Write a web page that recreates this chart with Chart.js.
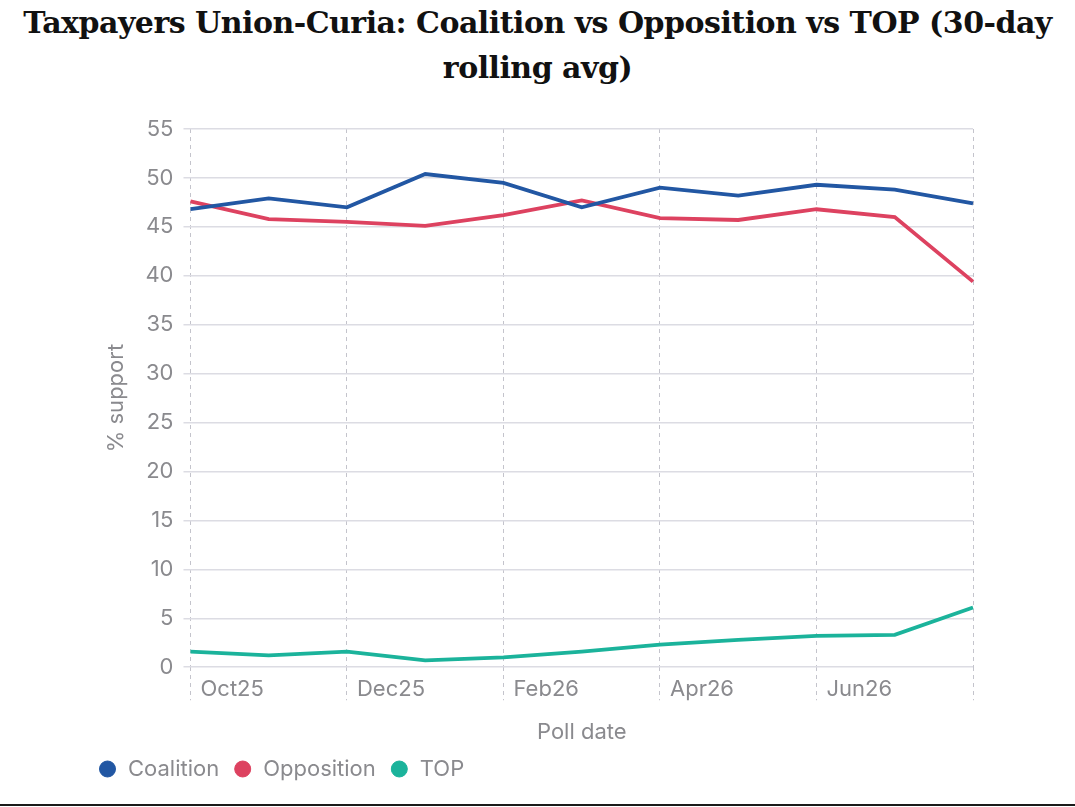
<!DOCTYPE html>
<html>
<head>
<meta charset="utf-8">
<script src="https://cdn.jsdelivr.net/npm/chart.js@4"></script>
<style>
    body { margin: 0; background: #fff; }
    .wrap { width: 1075px; height: 804px; border-bottom: 2px solid #1a1a1a; }
    h1 {
        margin: 0;
        height: 92px;
        padding-top: 0;
        font: bold 30px/45px "DejaVu Serif", serif;
        color: #111;
        text-align: center;
        white-space: nowrap;
        letter-spacing: -0.5px;
    }
    canvas { display: block; }
</style>
</head>
<body>
<div class="wrap">
    <h1>Taxpayers Union-Curia: Coalition vs Opposition vs TOP (30-day<br>rolling avg)</h1>
    <canvas id="pollChart" width="1075" height="712"></canvas>
</div>
<script>
// poll months (one point per month)
const months = ['Oct25', 'Nov25', 'Dec25', 'Jan26', 'Feb26', 'Mar26', 'Apr26', 'May26', 'Jun26', 'Jul26', 'Aug26'];

// 30-day rolling averages, % support
const coalition = [46.8, 47.9, 47.0, 50.4, 49.5, 47.0, 49.0, 48.2, 49.3, 48.8, 47.4];
const opposition = [47.6, 45.8, 45.5, 45.1, 46.2, 47.7, 45.9, 45.7, 46.8, 46.0, 39.4];
const topParty = [1.6, 1.2, 1.6, 0.7, 1.0, 1.6, 2.3, 2.8, 3.2, 3.3, 6.1];

const yTicks = [0, 5, 10, 15, 20, 25, 30, 35, 40, 45, 50, 55];

const tickColor = '#8a8a8e';
const sans = 'Inter, "Noto Sans", sans-serif';

const ctx = document.getElementById('pollChart');

new Chart(ctx, {
    type: 'line',
    data: {
        labels: months,
        datasets: [
            { label: 'Coalition', data: coalition, borderColor: '#2257a3', backgroundColor: '#2257a3' },
            { label: 'Opposition', data: opposition, borderColor: '#dd4260', backgroundColor: '#dd4260' },
            { label: 'TOP', data: topParty, borderColor: '#1bb39b', backgroundColor: '#1bb39b' }
        ]
    },
    options: {
        responsive: false,
        animation: false,
        layout: { padding: { left: 84, right: 102, top: 37, bottom: 14 } },
        elements: {
            line: { borderWidth: 3.8, tension: 0 },
            point: { radius: 0 }
        },
        scales: {
            x: {
                border: { display: false, dash: [4, 4] },
                grid: {
                    color: (c) => (c.index % 2 === 0 ? '#c4c4cc' : 'transparent'),
                    tickBorderDash: [4, 4],
                    tickLength: 33
                },
                ticks: {
                    autoSkip: false,
                    maxRotation: 0,
                    align: 'start',
                    labelOffset: 10,
                    padding: -24,
                    color: tickColor,
                    font: { family: sans, size: 22 },
                    callback: (v, i) => (i % 2 === 0 && i < months.length - 1 ? months[i] : '')
                },
                title: {
                    display: true,
                    text: 'Poll date',
                    color: tickColor,
                    font: { family: sans, size: 22 },
                    padding: { top: 41, bottom: -2 }
                }
            },
            y: {
                min: 0,
                max: 55,
                border: { display: false },
                afterBuildTicks: (axis) => { axis.ticks = yTicks.map((v) => ({ value: v })); },
                grid: { color: '#dcdce3', lineWidth: 1.5, tickLength: 7 },
                ticks: {
                    padding: 10,
                    color: tickColor,
                    font: { family: sans, size: 22 }
                },
                title: {
                    display: true,
                    text: '% support',
                    color: tickColor,
                    font: { family: sans, size: 22 },
                    padding: { top: 19, bottom: 6 }
                }
            }
        },
        plugins: {
            title: { display: false },
            legend: {
                position: 'bottom',
                align: 'start',
                labels: {
                    usePointStyle: true,
                    pointStyle: 'circle',
                    boxWidth: 19,
                    boxHeight: 11.3,
                    padding: 14,
                    color: tickColor,
                    font: { family: sans, size: 22 }
                }
            },
            tooltip: { enabled: false }
        }
    }
});
</script>
</body>
</html>
